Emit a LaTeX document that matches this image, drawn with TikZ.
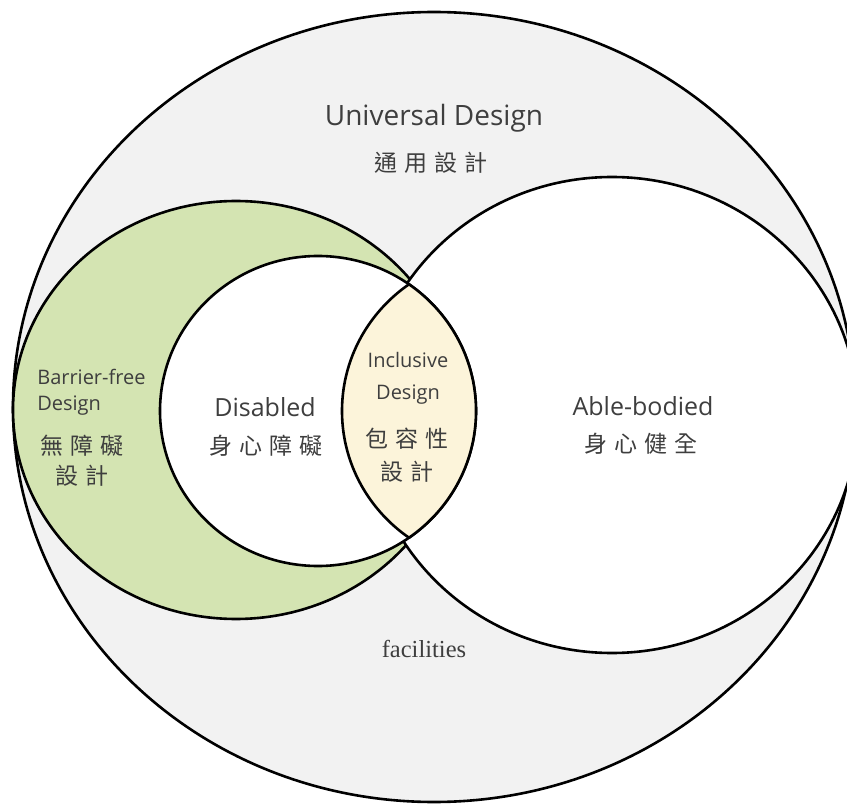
\documentclass[tikz,border=0pt]{standalone}
\usepackage{fontspec}
\newfontfamily\uifont{Open Sans}
\newfontfamily\cjkfont{Noto Sans CJK TC}
\newfontfamily\facfont{Liberation Serif}
\definecolor{udgray}{HTML}{F2F2F2}
\definecolor{bfgreen}{HTML}{D4E4B2}
\definecolor{incyellow}{HTML}{FCF4DA}
\definecolor{labelgray}{HTML}{3E3E3E}
\newcommand{\gap}{\hskip 0.3em}

\begin{document}
\begin{tikzpicture}[x=1pt, y=-1pt, line width=2.6pt,
      eng/.style={font=\uifont\fontsize{25}{30}\selectfont,text=labelgray,inner sep=0pt},
      small/.style={font=\uifont\fontsize{20}{32}\selectfont,text=labelgray,inner sep=0pt,align=center},
      chn/.style={font=\cjkfont\fontsize{23}{30}\selectfont,text=labelgray,inner sep=0pt,align=center}]
      \clip (0,0) rectangle (847,805);
      \fill[white] (0,0) rectangle (847,805);
      % circles
      \draw[fill=udgray] (434,407) ellipse [x radius=421, y radius=395];
      \draw[fill=bfgreen] (236,410) ellipse [x radius=223, y radius=209];
      \draw[fill=white] (612,415) ellipse [x radius=246, y radius=238];
      \draw[fill=white] (318,411) ellipse [x radius=158, y radius=155];
      % inclusive lens
      \begin{scope}
        \clip (318,411) ellipse [x radius=158, y radius=155];
        \fill[incyellow] (500,411) ellipse [x radius=158, y radius=155];
        \draw (500,411) ellipse [x radius=158, y radius=155];
      \end{scope}
      \begin{scope}
        \clip (500,411) ellipse [x radius=158, y radius=155];
        \draw (318,411) ellipse [x radius=158, y radius=155];
      \end{scope}
      % labels
      \node[eng,anchor=base,font=\uifont\fontsize{28}{30}\selectfont] at (434,126) (ud) {Universal Design};
      \node[chn] at (431,163) (udzh) {通\gap 用\gap 設\gap 計};
      \node[small,anchor=north west,align=left,font=\uifont\fontsize{20}{26}\selectfont] at (36,368) (bf) {Barrier-free\\Design};
      \node[chn] at (82,461) (bfzh) {無\gap 障\gap 礙\\設\gap 計};
      \node[eng,anchor=base] at (265,416) (dis) {Disabled};
      \node[chn] at (266,446) (diszh) {身\gap 心\gap 障\gap 礙};
      \node[small,anchor=north] at (408,351) (inc) {Inclusive\\Design};
      \node[chn,font=\cjkfont\fontsize{23}{33}\selectfont] at (407,455) (inczh) {包\gap 容\gap 性\\設\gap 計};
      \node[eng,anchor=base] at (643,415) (able) {Able-bodied};
      \node[chn] at (641,444) (ablezh) {身\gap 心\gap 健\gap 全};
      \node[anchor=base,inner sep=0pt,text=labelgray,font=\facfont\fontsize{24.5}{28}\selectfont] at (424,657) (fac) {facilities};
    \end{tikzpicture}
\end{document}
